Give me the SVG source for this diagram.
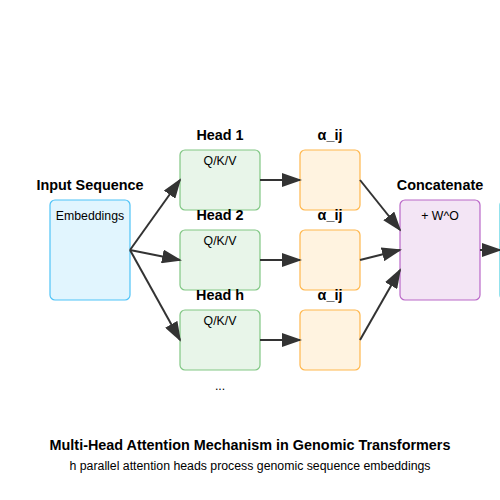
<svg xmlns="http://www.w3.org/2000/svg" width="500" height="500" viewBox="0 0 500 500">
<defs>
<marker id="arr" markerWidth="10" markerHeight="7" refX="9" refY="3.5" orient="auto" viewBox="0 0 10 7">
<polygon points="0 0, 10 3.5, 0 7" fill="#333"/>
</marker>
</defs>
<style>
text{font-family:"Liberation Sans",Arial,sans-serif;fill:#000}
.t{font-size:14.4px;font-weight:bold;text-anchor:middle}
.l{font-size:12.3px;text-anchor:middle}
.c{stroke:#333;stroke-width:2;fill:none;marker-end:url(#arr)}
.in{fill:#e1f5fe;stroke:#4fc3f7;stroke-width:1.2}
.hd{fill:#e8f5e9;stroke:#81c784;stroke-width:1.2}
.at{fill:#fff3e0;stroke:#ffb74d;stroke-width:1.2}
.cc{fill:#f3e5f5;stroke:#ba68c8;stroke-width:1.2}
.out{fill:#e0f7fa;stroke:#4dd0e1;stroke-width:1.2}
</style>
<rect width="500" height="500" fill="#fff"/>
<g id="input">
<rect class="in" x="50" y="200" width="80" height="100" rx="5"/>
<text class="t" x="90" y="190">Input Sequence</text>
<text class="l" x="90" y="220">Embeddings</text>
</g>
<g id="head1">
<rect class="hd" x="180" y="150" width="80" height="60" rx="5"/>
<text class="t" x="220" y="140">Head 1</text>
<text class="l" x="220" y="165">Q/K/V</text>
</g>
<g id="head2">
<rect class="hd" x="180" y="230" width="80" height="60" rx="5"/>
<text class="t" x="220" y="220">Head 2</text>
<text class="l" x="220" y="245">Q/K/V</text>
</g>
<g id="headh">
<rect class="hd" x="180" y="310" width="80" height="60" rx="5"/>
<text class="t" x="220" y="300">Head h</text>
<text class="l" x="220" y="325">Q/K/V</text>
</g>
<g id="att1">
<rect class="at" x="300" y="150" width="60" height="60" rx="5"/>
<text class="t" x="330" y="140">α_ij</text>
</g>
<g id="att2">
<rect class="at" x="300" y="230" width="60" height="60" rx="5"/>
<text class="t" x="330" y="220">α_ij</text>
</g>
<g id="atth">
<rect class="at" x="300" y="310" width="60" height="60" rx="5"/>
<text class="t" x="330" y="300">α_ij</text>
</g>
<g id="concat">
<rect class="cc" x="400" y="200" width="80" height="100" rx="5"/>
<text class="t" x="440" y="190">Concatenate</text>
<text class="l" x="440" y="220">+ W^O</text>
</g>
<g id="output">
<rect class="out" x="500" y="200" width="80" height="100" rx="5"/>
</g>
<g id="dots">
<text class="l" x="220" y="390">...</text>
</g>
<g id="connectors">
<line class="c" x1="130" y1="250" x2="180" y2="180"/>
<line class="c" x1="130" y1="250" x2="180" y2="260"/>
<line class="c" x1="130" y1="250" x2="180" y2="340"/>
<line class="c" x1="260" y1="180" x2="300" y2="180"/>
<line class="c" x1="260" y1="260" x2="300" y2="260"/>
<line class="c" x1="260" y1="340" x2="300" y2="340"/>
<line class="c" x1="360" y1="180" x2="400" y2="230"/>
<line class="c" x1="360" y1="260" x2="400" y2="250"/>
<line class="c" x1="360" y1="340" x2="400" y2="270"/>
<line class="c" x1="480" y1="250" x2="500" y2="250"/>
</g>
<g id="caption">
<text class="t" x="250" y="450">Multi-Head Attention Mechanism in Genomic Transformers</text>
<text class="l" x="250" y="470">h parallel attention heads process genomic sequence embeddings</text>
</g>
</svg>
